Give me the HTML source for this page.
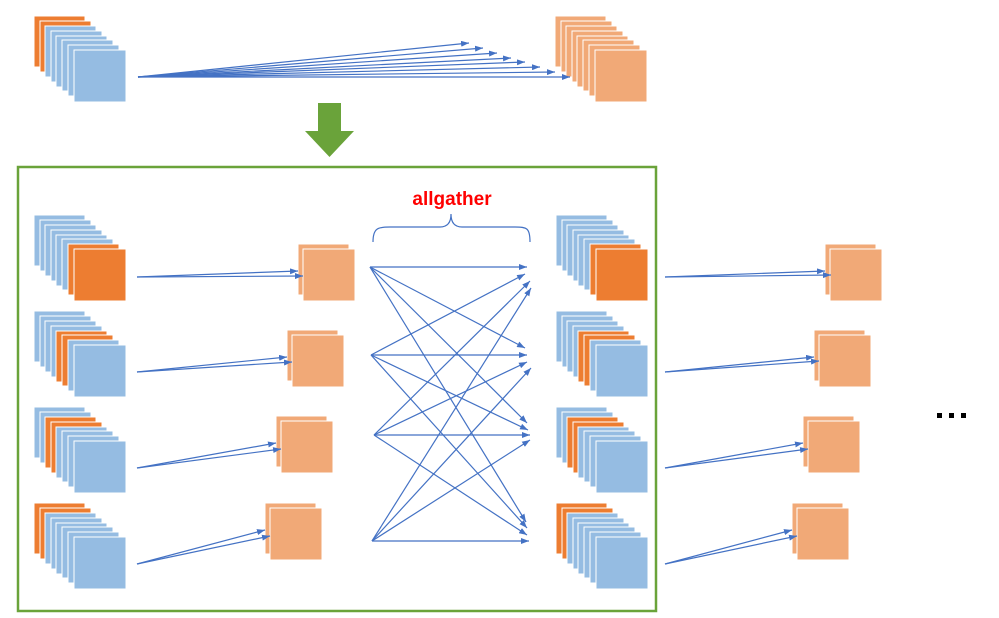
<!DOCTYPE html>
<html><head><meta charset="utf-8"><style>html,body{margin:0;padding:0;background:#fff}svg{display:block}</style></head>
<body>
<svg width="999" height="618" viewBox="0 0 999 618" xmlns="http://www.w3.org/2000/svg">
<defs>
<marker id="ah" markerWidth="8" markerHeight="6" refX="8" refY="3" orient="auto" markerUnits="userSpaceOnUse">
<path d="M0,0 L8,3 L0,6 z" fill="#4472C4"/></marker>
<g id="A"><!-- orange 0,1 -->
<rect x="0" y="0" width="51" height="51" fill="#ED7D31" stroke="#fff"/>
<rect x="6" y="5" width="51" height="51" fill="#ED7D31" stroke="#fff"/>
<rect x="11" y="10" width="51" height="51" fill="#95BCE2" stroke="#fff"/>
<rect x="17" y="15" width="51" height="51" fill="#95BCE2" stroke="#fff"/>
<rect x="22" y="20" width="51" height="51" fill="#95BCE2" stroke="#fff"/>
<rect x="28" y="24" width="51" height="51" fill="#95BCE2" stroke="#fff"/>
<rect x="34" y="29" width="51" height="51" fill="#95BCE2" stroke="#fff"/>
<rect x="40" y="34" width="52" height="52" fill="#95BCE2" stroke="#fff"/>
</g>
<g id="B"><!-- orange 2,3 -->
<rect x="0" y="0" width="51" height="51" fill="#95BCE2" stroke="#fff"/>
<rect x="6" y="5" width="51" height="51" fill="#95BCE2" stroke="#fff"/>
<rect x="11" y="10" width="51" height="51" fill="#ED7D31" stroke="#fff"/>
<rect x="17" y="15" width="51" height="51" fill="#ED7D31" stroke="#fff"/>
<rect x="22" y="20" width="51" height="51" fill="#95BCE2" stroke="#fff"/>
<rect x="28" y="24" width="51" height="51" fill="#95BCE2" stroke="#fff"/>
<rect x="34" y="29" width="51" height="51" fill="#95BCE2" stroke="#fff"/>
<rect x="40" y="34" width="52" height="52" fill="#95BCE2" stroke="#fff"/>
</g>
<g id="C"><!-- orange 4,5 -->
<rect x="0" y="0" width="51" height="51" fill="#95BCE2" stroke="#fff"/>
<rect x="6" y="5" width="51" height="51" fill="#95BCE2" stroke="#fff"/>
<rect x="11" y="10" width="51" height="51" fill="#95BCE2" stroke="#fff"/>
<rect x="17" y="15" width="51" height="51" fill="#95BCE2" stroke="#fff"/>
<rect x="22" y="20" width="51" height="51" fill="#ED7D31" stroke="#fff"/>
<rect x="28" y="24" width="51" height="51" fill="#ED7D31" stroke="#fff"/>
<rect x="34" y="29" width="51" height="51" fill="#95BCE2" stroke="#fff"/>
<rect x="40" y="34" width="52" height="52" fill="#95BCE2" stroke="#fff"/>
</g>
<g id="D"><!-- orange 6,7 -->
<rect x="0" y="0" width="51" height="51" fill="#95BCE2" stroke="#fff"/>
<rect x="6" y="5" width="51" height="51" fill="#95BCE2" stroke="#fff"/>
<rect x="11" y="10" width="51" height="51" fill="#95BCE2" stroke="#fff"/>
<rect x="17" y="15" width="51" height="51" fill="#95BCE2" stroke="#fff"/>
<rect x="22" y="20" width="51" height="51" fill="#95BCE2" stroke="#fff"/>
<rect x="28" y="24" width="51" height="51" fill="#95BCE2" stroke="#fff"/>
<rect x="34" y="29" width="51" height="51" fill="#ED7D31" stroke="#fff"/>
<rect x="40" y="34" width="52" height="52" fill="#ED7D31" stroke="#fff"/>
</g>
<g id="L"><!-- all light orange -->
<rect x="0" y="0" width="51" height="51" fill="#F1A977" stroke="#fff"/>
<rect x="6" y="5" width="51" height="51" fill="#F1A977" stroke="#fff"/>
<rect x="11" y="10" width="51" height="51" fill="#F1A977" stroke="#fff"/>
<rect x="17" y="15" width="51" height="51" fill="#F1A977" stroke="#fff"/>
<rect x="22" y="20" width="51" height="51" fill="#F1A977" stroke="#fff"/>
<rect x="28" y="24" width="51" height="51" fill="#F1A977" stroke="#fff"/>
<rect x="34" y="29" width="51" height="51" fill="#F1A977" stroke="#fff"/>
<rect x="40" y="34" width="52" height="52" fill="#F1A977" stroke="#fff"/>
</g>
<g id="P">
<rect x="0" y="0" width="51" height="51" fill="#F1A977" stroke="#fff"/>
<rect x="5" y="5" width="52" height="52" fill="#F1A977" stroke="#fff"/>
</g>
</defs>

<!-- top -->
<use href="#A" x="34" y="16"/>
<use href="#L" x="555" y="16"/>
<g stroke="#4472C4" stroke-width="1.2" fill="none" marker-end="url(#ah)">
<line x1="138" y1="77" x2="469" y2="43"/>
<line x1="138" y1="77" x2="483" y2="48"/>
<line x1="138" y1="77" x2="497" y2="53"/>
<line x1="138" y1="77" x2="511" y2="58"/>
<line x1="138" y1="77" x2="525" y2="62"/>
<line x1="138" y1="77" x2="540" y2="67"/>
<line x1="138" y1="77" x2="555" y2="72"/>
<line x1="138" y1="77" x2="570" y2="77"/>
</g>

<!-- green down arrow -->
<path d="M318,103 L341,103 L341,131 L354,131 L329.5,157 L305,131 L318,131 z" fill="#6AA33A"/>

<!-- green box -->
<rect x="18" y="167" width="638" height="444" fill="none" stroke="#6AA33A" stroke-width="2.5"/>

<!-- left stacks -->
<use href="#D" x="34" y="215"/>
<use href="#C" x="34" y="311"/>
<use href="#B" x="34" y="407"/>
<use href="#A" x="34" y="503"/>
<!-- right stacks -->
<use href="#D" x="556" y="215"/>
<use href="#C" x="556" y="311"/>
<use href="#B" x="556" y="407"/>
<use href="#A" x="556" y="503"/>

<!-- pairs -->
<use href="#P" x="298" y="244"/>
<use href="#P" x="287" y="330"/>
<use href="#P" x="276" y="416"/>
<use href="#P" x="265" y="503"/>
<use href="#P" x="825" y="244"/>
<use href="#P" x="814" y="330"/>
<use href="#P" x="803" y="416"/>
<use href="#P" x="792" y="503"/>

<g stroke="#4472C4" stroke-width="1.2" fill="none" marker-end="url(#ah)">
<line x1="137" y1="277" x2="298" y2="271"/>
<line x1="137" y1="277" x2="303" y2="276"/>
<line x1="137" y1="372" x2="287" y2="357"/>
<line x1="137" y1="372" x2="292" y2="362"/>
<line x1="137" y1="468" x2="276" y2="443"/>
<line x1="137" y1="468" x2="281" y2="449"/>
<line x1="137" y1="564" x2="265" y2="530"/>
<line x1="137" y1="564" x2="270" y2="536"/>

<line x1="665" y1="277" x2="825" y2="271"/>
<line x1="665" y1="277" x2="831" y2="275"/>
<line x1="665" y1="372" x2="814" y2="357"/>
<line x1="665" y1="372" x2="819" y2="361"/>
<line x1="665" y1="468" x2="803" y2="443"/>
<line x1="665" y1="468" x2="808" y2="449"/>
<line x1="665" y1="564" x2="792" y2="530"/>
<line x1="665" y1="564" x2="797" y2="536"/>

<!-- allgather crossing -->
<line x1="370" y1="267" x2="527" y2="267"/>
<line x1="370" y1="267" x2="525" y2="348"/>
<line x1="370" y1="267" x2="527" y2="423"/>
<line x1="370" y1="267" x2="526" y2="522"/>

<line x1="371" y1="355" x2="525" y2="274"/>
<line x1="371" y1="355" x2="527" y2="355"/>
<line x1="371" y1="355" x2="528" y2="430"/>
<line x1="371" y1="355" x2="527" y2="528"/>

<line x1="374" y1="435" x2="530" y2="281"/>
<line x1="374" y1="435" x2="527" y2="362"/>
<line x1="374" y1="435" x2="530" y2="435"/>
<line x1="374" y1="435" x2="527" y2="535"/>

<line x1="372" y1="541" x2="531" y2="288"/>
<line x1="372" y1="541" x2="531" y2="368"/>
<line x1="372" y1="541" x2="530" y2="440"/>
<line x1="372" y1="541" x2="529" y2="541"/>
</g>

<!-- brace -->
<path d="M373,242 C373,228 378,227 390,227 L440,227 C448,227 451,222 451,214 C451,222 454,227 462,227 L515,227 C527,227 530,228 530,242" fill="none" stroke="#4472C4" stroke-width="1.2"/>
<text x="452" y="205" text-anchor="middle" font-family="Liberation Sans, sans-serif" font-weight="bold" font-size="19" fill="#FF0000">allgather</text>

<!-- ellipsis -->
<rect x="937" y="413" width="5" height="5" fill="#000"/>
<rect x="949" y="413" width="5" height="5" fill="#000"/>
<rect x="961" y="413" width="5" height="5" fill="#000"/>
</svg>
</body></html>
